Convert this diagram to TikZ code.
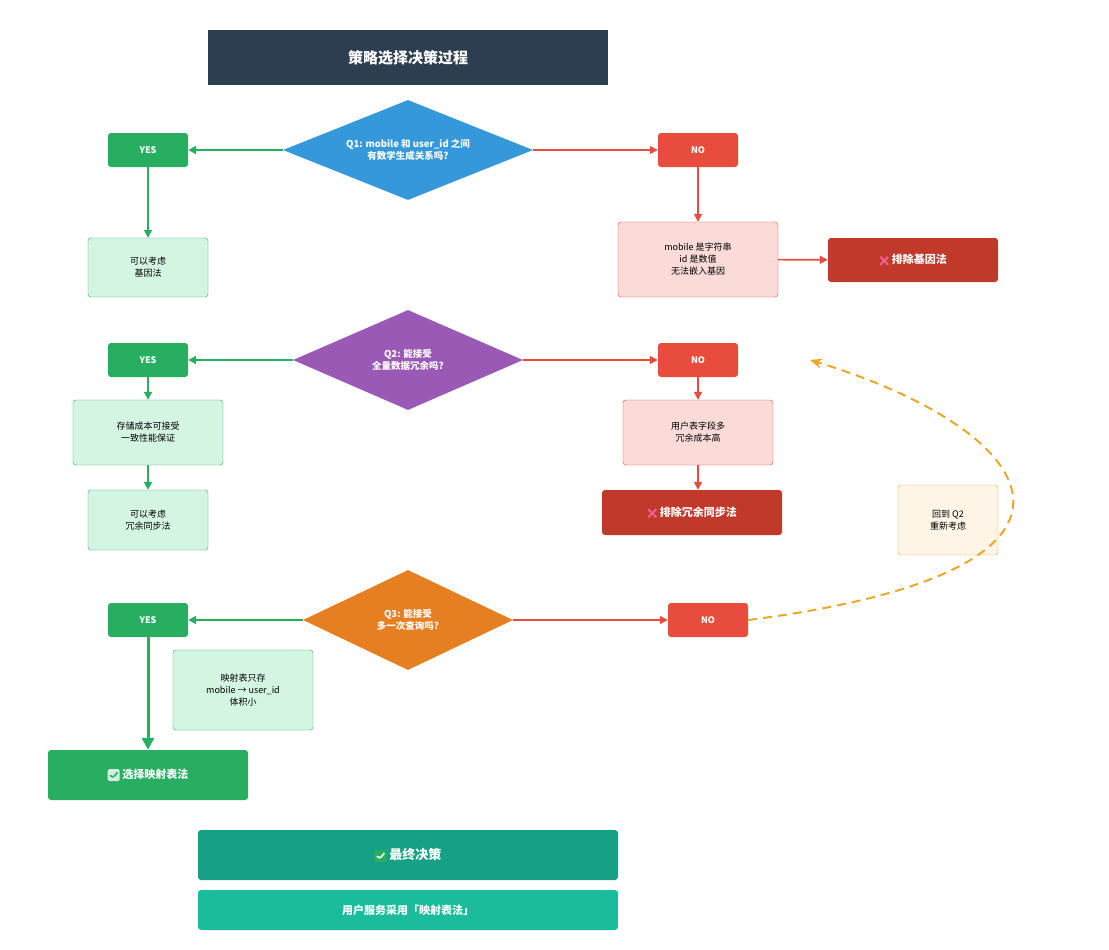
\documentclass[tikz,border=0pt]{standalone}
\usepackage{fontspec}
\setmainfont{Noto Sans CJK SC}
\usetikzlibrary{shapes.geometric,arrows.meta}
\definecolor{navy}{HTML}{2C3E50}
\definecolor{gr}{HTML}{27AE60}
\definecolor{rd}{HTML}{E74C3C}
\definecolor{drd}{HTML}{C0392B}
\definecolor{lgr}{HTML}{D5F5E3}
\definecolor{lrd}{HTML}{FADBD8}
\definecolor{bl}{HTML}{3498DB}
\definecolor{pu}{HTML}{9B59B6}
\definecolor{orq}{HTML}{E67E22}
\definecolor{ye}{HTML}{E8A82A}
\definecolor{lye}{HTML}{FEF5E7}
\definecolor{teal}{HTML}{16A085}
\definecolor{lteal}{HTML}{1ABC9C}
\definecolor{pink}{HTML}{F06292}
\tikzset{
 box/.style={rectangle,rounded corners=3pt,minimum width=#1,align=center,font=\fontsize{9}{12}\selectfont},
 yes/.style={box=80pt,minimum height=34pt,fill=gr,text=white,font=\bfseries\fontsize{9}{11}\selectfont},
 no/.style={box=80pt,minimum height=34pt,fill=rd,text=white,font=\bfseries\fontsize{9}{11}\selectfont},
 gbox/.style={box=#1,fill=lgr,draw=gr,thin},
 rbox/.style={box=#1,fill=lrd,draw=rd,thin},
 dia/.style={diamond,aspect=2.5,inner sep=0pt,text=white,align=center,font=\bfseries\fontsize{9.5}{12}\selectfont,fill=#1},
 dbig/.style={rectangle,rounded corners=3pt,fill=drd,text=white,font=\bfseries\fontsize{11}{13}\selectfont},
 ga/.style={draw=gr,line width=2.2pt,-{Triangle[length=8pt,width=8pt]}},
 ra/.style={draw=rd,line width=1.6pt,-{Triangle[length=8pt,width=8pt]}},
}
\newcommand{\xmark}{\tikz[baseline=-3pt]{\draw[pink,line width=2pt] (-4pt,-4pt)--(4pt,4pt) (-4pt,4pt)--(4pt,-4pt);}}
\newcommand{\cbox}[2]{\tikz[baseline=-3pt]{\fill[#1,rounded corners=1.5pt] (-6pt,-6pt) rectangle (6pt,6pt);\draw[#2,line width=1.6pt] (-3.5pt,0pt)--(-1pt,-3pt)--(3.8pt,3pt);}}
\begin{document}
\begin{tikzpicture}[x=1pt,y=-1pt]
\useasboundingbox[fill=white] (0,0) rectangle (1109,950);
\node[rectangle,fill=navy,text=white,minimum width=400pt,minimum height=55pt,font=\bfseries\fontsize{15}{18}\selectfont] (t) at (408,57.5) {策略选择决策过程};
% Q1
\node[dia=bl,minimum width=250pt,minimum height=100pt] (q1) at (408,150) {Q1: mobile 和 user\_id 之间\\有数学生成关系吗?};
\node[yes] (y1) at (148,150) {YES};
\node[no] (n1) at (698,150) {NO};
\node[gbox=120pt,minimum height=59pt] (g1) at (148,267.5) {可以考虑\\基因法};
\node[rbox=160pt,minimum height=75pt] (r1) at (698,259.5) {mobile 是字符串\\id 是数值\\无法嵌入基因};
\node[dbig,minimum width=170pt,minimum height=44pt] (x1) at (913,260) {\xmark\ 排除基因法};
\draw[ga] (q1) -- (y1);
\draw[ra] (q1) -- (n1);
\draw[ga] (y1) -- (g1);
\draw[ra] (n1) -- (r1);
\draw[ra] (r1) -- (x1);
% Q2
\node[dia=pu,minimum width=230pt,minimum height=100pt] (q2) at (408,360) {Q2: 能接受\\全量数据冗余吗?};
\node[yes] (y2) at (148,360) {YES};
\node[no] (n2) at (698,360) {NO};
\node[gbox=150pt,minimum height=65pt] (g2) at (148,432.5) {存储成本可接受\\一致性能保证};
\node[gbox=120pt,minimum height=60pt] (g3) at (148,520) {可以考虑\\冗余同步法};
\node[rbox=150pt,minimum height=65pt] (r2) at (698,432.5) {用户表字段多\\冗余成本高};
\node[dbig,minimum width=180pt,minimum height=45pt] (x2) at (692,512.5) {\xmark\ 排除冗余同步法};
\node[box=100pt,minimum height=70pt,fill=lye,draw=ye,thin] (back) at (948,520) {回到 Q2\\重新考虑};
\draw[ga] (q2) -- (y2);
\draw[ra] (q2) -- (n2);
\draw[ga] (y2) -- (g2);
\draw[ga] (g2) -- (g3);
\draw[ra] (n2) -- (r2);
\draw[ra] (r2) -- (r2 |- x2.north);
% Q3
\node[dia=orq,minimum width=210pt,minimum height=100pt] (q3) at (408,620) {Q3: 能接受\\多一次查询吗?};
\node[yes] (y3) at (148,620) {YES};
\node[no] (n3) at (708,620) {NO};
\node[gbox=140pt,minimum height=80pt] (g4) at (243,690) {映射表只存\\mobile → user\_id\\体积小};
\node[rectangle,rounded corners=3pt,fill=gr,text=white,minimum width=200pt,minimum height=50pt,font=\bfseries\fontsize{11}{13}\selectfont] (sel) at (148,775) {\cbox{white!80!gr}{gr}\ 选择映射表法};
\draw[ga] (q3) -- (y3);
\draw[ra] (q3) -- (n3);
\draw[draw=gr,line width=3pt,-{Triangle[length=12pt,width=12pt]}] (y3) -- (sel);
\coordinate (tgt) at (810,360);
\draw[ye,line width=2pt,dash pattern=on 9pt off 6pt,-{Stealth[length=12pt,width=10pt]}] (n3.east) .. controls (1140,570) and (1040,430) .. (tgt);
% final
\node[rectangle,rounded corners=3pt,fill=teal,text=white,minimum width=420pt,minimum height=50pt,font=\bfseries\fontsize{13}{15}\selectfont] (fin) at (408,855) {\cbox{gr}{white}\ 最终决策};
\node[rectangle,rounded corners=3pt,fill=lteal,text=white,minimum width=420pt,minimum height=40pt,font=\bfseries\fontsize{11}{13}\selectfont] (use) at (408,910) {用户服务采用「映射表法」};
\end{tikzpicture}
\end{document}
